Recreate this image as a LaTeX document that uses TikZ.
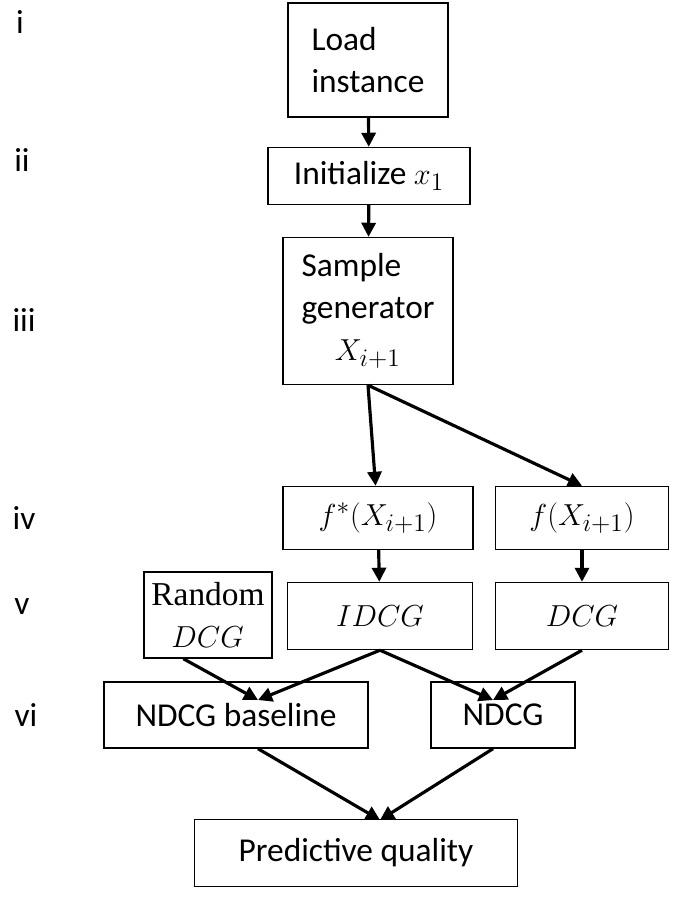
\documentclass[tikz,border=0pt]{standalone}
\usepackage{fontspec}
\setmainfont{Carlito}
\newfontfamily\serifrm{Liberation Serif}
\usetikzlibrary{arrows.meta}
\tikzset{
 stage/.style={draw,line width=0.8pt,inner sep=2pt,align=left,font=\fontsize{19}{24}\selectfont},
 lvl/.style={font=\fontsize{19}{24}\selectfont},
 flow/.style={-{Triangle[length=8pt,width=8pt]},line width=1.8pt}
}
\newcommand{\stagebox}[4]{%
 \node[stage,minimum width=#3,minimum height=#4] (#1) at (#2) }
\begin{document}
\begin{tikzpicture}[x=0.02cm,y=-0.02cm]
   \useasboundingbox (0,0) rectangle (685,921);
   % step labels
   \node[lvl] (l1) at (20,22) {i};
   \node[lvl] (l2) at (22,160) {ii};
   \node[lvl] (l3) at (24,320) {iii};
   \node[lvl] (l4) at (24,518) {iv};
   \node[lvl] (l5) at (22,607) {v};
   \node[lvl] (l6) at (26,715) {vi};
   % boxes
   \stagebox{load}{368,60}{3.2cm}{2.28cm} {Load\\instance};
   \stagebox{init}{369,176}{4.04cm}{1.14cm} {Initialize $x_1$};
   \stagebox{samp}{368,311}{3.4cm}{2.94cm} {Sample\\generator\\\hspace*{1em}$X_{i+1}$};
   \stagebox{fstar}{378,518}{3.8cm}{1.26cm} {$f^*(X_{i+1})$};
   \stagebox{fx}{582,518}{3.46cm}{1.26cm} {$f(X_{i+1})$};
   \stagebox{rand}{208,615}{2.56cm}{1.72cm} {{\serifrm Random}\\\hspace*{0.6em}$DCG$};
   \stagebox{idcg}{380,616}{3.7cm}{1.34cm} {$IDCG$};
   \stagebox{dcg}{582,616}{3.46cm}{1.34cm} {$DCG$};
   \stagebox{base}{236,715}{5.28cm}{1.32cm} {NDCG baseline};
   \stagebox{ndcg}{503,715}{2.88cm}{1.32cm} {NDCG};
   \stagebox{pq}{356,853}{6.46cm}{1.34cm} {Predictive quality};
   % arrows
   \draw[flow] (load) -- (init);
   \draw[flow] (init) -- (samp);
   \coordinate (split) at (samp.south);
   \draw[flow] (split) -- (fstar);
   \draw[flow] (split) -- (fx.north);
   \draw[flow] (fstar) -- (idcg);
   \draw[flow] (fx) -- (dcg);
   \coordinate (bin) at (258,700);
   \coordinate (nin) at (493,700);
   \draw[flow] (rand.south west) ++(40,0) -- (bin);
   \draw[flow] (idcg.south) -- (bin);
   \draw[flow] (idcg.south) -- (nin);
   \draw[flow] (dcg.south) -- (nin);
   \coordinate (pin) at (380,820);
   \draw[flow] (base.south) ++(22,0) -- (pin);
   \draw[flow] (ndcg.south) ++(-10,0) -- (pin);
\end{tikzpicture}
\end{document}
